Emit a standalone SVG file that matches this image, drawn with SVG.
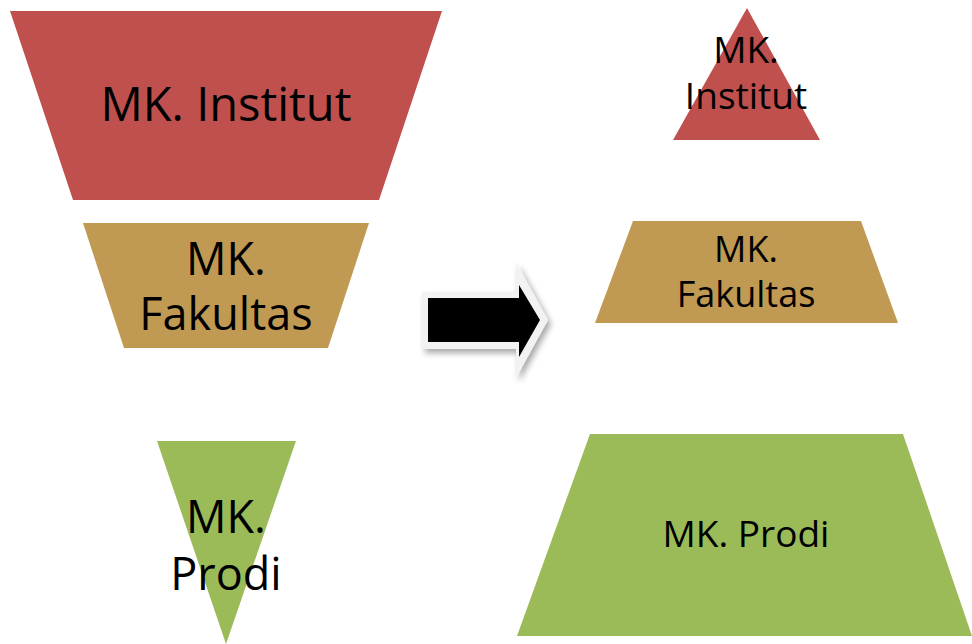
<svg xmlns="http://www.w3.org/2000/svg" width="972" height="644" viewBox="0 0 972 644">
<defs>
<style>
.t{font-family:"Open Sans","Liberation Sans",sans-serif;fill:#000;text-anchor:middle}
.red{fill:#C0504D}.tan{fill:#C09A52}.grn{fill:#9BBB59}
</style>
<filter id="sh" x="-20%" y="-20%" width="150%" height="150%">
<feGaussianBlur in="SourceAlpha" stdDeviation="3"/>
<feOffset dx="3" dy="4" result="b"/>
<feComponentTransfer><feFuncA type="linear" slope="0.35"/></feComponentTransfer>
<feMerge><feMergeNode/><feMergeNode in="SourceGraphic"/></feMerge>
</filter>
</defs>
<rect width="972" height="644" fill="#fff"/>
<g id="left-institut">
<polygon class="red" points="10,11 442,11 379,200 73,200"/>
<text class="t" x="226" y="121" font-size="47">MK. Institut</text>
</g>
<g id="left-fakultas">
<polygon class="tan" points="83,223 369,223 328,348 124,348"/>
<text class="t" x="226" y="275" font-size="45">MK.</text>
<text class="t" x="226" y="330" font-size="45">Fakultas</text>
</g>
<g id="left-prodi">
<polygon class="grn" points="157,441 296,441 226,644"/>
<text class="t" x="226" y="533" font-size="45">MK.</text>
<text class="t" x="226" y="590" font-size="45">Prodi</text>
</g>
<g id="arrow">
<polygon points="422,292 516,292 516,262 548,320 516,378 516,349 422,349" fill="#f2f2f2" filter="url(#sh)"/>
<polygon points="428,298 519,298 519,285 540,320 519,357 519,342 428,342" fill="#000"/>
</g>
<g id="right-institut">
<polygon class="red" points="747,8 820,140 673,140"/>
<text class="t" x="746" y="63" font-size="37">MK.</text>
<text class="t" x="746" y="109" font-size="37">Institut</text>
</g>
<g id="right-fakultas">
<polygon class="tan" points="633,221 861,221 898,323 595,323"/>
<text class="t" x="746" y="262" font-size="36">MK.</text>
<text class="t" x="746" y="307" font-size="36">Fakultas</text>
</g>
<g id="right-prodi">
<polygon class="grn" points="590,434 903,434 972,636 517,636"/>
<text class="t" x="746" y="547" font-size="37">MK. Prodi</text>
</g>
<g id="connectors"/>
</svg>
